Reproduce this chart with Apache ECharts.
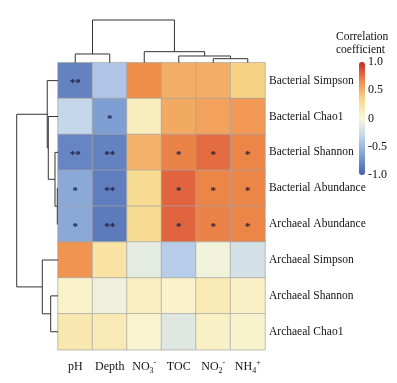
<!DOCTYPE html>
<html>
<head>
<meta charset="utf-8">
<script src="https://cdn.jsdelivr.net/npm/echarts@6/dist/echarts.min.js"></script>
<style>
  html, body { margin: 0; padding: 0; background: #fff; }
  #main { width: 397px; height: 383px; }
</style>
</head>
<body>
<div id="main"></div>
<script>
// columns (environmental factors), in dendrogram order
var colLabels = ['pH', 'Depth', 'NO{sub|3}{sup|-}', 'TOC', 'NO{sub|2}{sup|-}', 'NH{sub|4}{sup|+}'];
// rows (diversity / abundance indices), top to bottom
var rowLabels = ['Bacterial Simpson', 'Bacterial Chao1', 'Bacterial Shannon', 'Bacterial Abundance',
                 'Archaeal Abundance', 'Archaeal Simpson', 'Archaeal Shannon', 'Archaeal Chao1'];

// correlation coefficients, one array per row
var bacSimpson   = [-0.82, -0.42, 0.66, 0.52, 0.52, 0.36];
var bacChao1     = [-0.30, -0.66, 0.12, 0.54, 0.57, 0.61];
var bacShannon   = [-0.80, -0.82, 0.50, 0.70, 0.77, 0.69];
var bacAbundance = [-0.60, -0.84, 0.30, 0.80, 0.69, 0.69];
var arcAbundance = [-0.60, -0.86, 0.30, 0.80, 0.70, 0.69];
var arcSimpson   = [0.63, 0.22, -0.12, -0.38, -0.05, -0.22];
var arcShannon   = [0.06, -0.06, 0.10, 0.06, 0.15, 0.08];
var arcChao1     = [0.18, 0.15, 0.04, -0.15, 0.08, 0.05];

// significance marks
var bacSimpsonSig   = ['**', '', '', '', '', ''];
var bacChao1Sig     = ['', '*', '', '', '', ''];
var bacShannonSig   = ['**', '**', '', '*', '*', '*'];
var bacAbundanceSig = ['*', '**', '', '*', '*', '*'];
var arcAbundanceSig = ['*', '**', '', '*', '*', '*'];
var arcSimpsonSig   = ['', '', '', '', '', ''];
var arcShannonSig   = ['', '', '', '', '', ''];
var arcChao1Sig     = ['', '', '', '', '', ''];

// dendrogram merges: [childA, childB, height]; new cluster id = nLeaves + index
var colMerges = [[4, 5, 0.094], [3, 6, 0.157], [0, 1, 0.204], [2, 7, 0.258], [8, 9, 1.0]];
var rowMerges = [[3, 4, 0.017], [2, 8, 0.073], [1, 9, 0.235], [0, 10, 0.26],
                 [6, 7, 0.177], [5, 12, 0.38], [11, 13, 1.0]];

var colorTicks = [1.0, 0.5, 0, -0.5, -1.0];

var values = [bacSimpson, bacChao1, bacShannon, bacAbundance, arcAbundance, arcSimpson, arcShannon, arcChao1];
var sigs = [bacSimpsonSig, bacChao1Sig, bacShannonSig, bacAbundanceSig, arcAbundanceSig, arcSimpsonSig, arcShannonSig, arcChao1Sig];

var heatData = [];
for (var r = 0; r < values.length; r++) {
    for (var c = 0; c < values[r].length; c++) {
        heatData.push([c, r, values[r][c]]);
    }
}

function buildTree(merges, n) {
    var pos = [], hgt = [], segs = [];
    for (var i = 0; i < n; i++) { pos[i] = i; hgt[i] = 0; }
    merges.forEach(function (m, k) {
        var a = m[0], b = m[1];
        segs.push([pos[a], hgt[a], pos[b], hgt[b], m[2]]);
        pos[n + k] = (pos[a] + pos[b]) / 2;
        hgt[n + k] = m[2];
    });
    return segs;
}

var colSegs = buildTree(colMerges, colLabels.length);
var rowSegs = buildTree(rowMerges, rowLabels.length);

var serif = 'Liberation Serif';
var lineColor = '#333';

var myChart = echarts.init(document.getElementById('main'));

var option = {
    backgroundColor: '#fff',
    animation: false,
    textStyle: { fontFamily: serif },
    graphic: [{
        type: 'text',
        left: 336,
        top: 31,
        style: {
            text: 'Correlation\ncoefficient',
            font: '11.5px ' + serif,
            fill: '#111',
            align: 'center',
            lineHeight: 12.5
        }
    }],
    grid: [
        { left: 58, top: 62.7, width: 207, height: 287 },
        { left: 58, top: 20, width: 207, height: 42.7 },
        { left: 16.7, top: 62.7, width: 41.3, height: 287 },
        { left: 359, top: 62, width: 6, height: 113 }
    ],
    xAxis: [
        {
            type: 'category', gridIndex: 0, data: colLabels,
            axisLine: { show: false }, axisTick: { show: false }, splitLine: { show: false },
            axisLabel: {
                interval: 0,
                margin: 9, color: '#111', fontFamily: serif, fontSize: 12, lineHeight: 16,
                rich: {
                    sub: { fontSize: 8, lineHeight: 8, verticalAlign: 'bottom', fontFamily: serif, color: '#111' },
                    sup: { fontSize: 8, lineHeight: 8, verticalAlign: 'top', fontFamily: serif, color: '#111' }
                }
            }
        },
        { type: 'value', gridIndex: 1, min: -0.5, max: 5.5, show: false },
        { type: 'value', gridIndex: 2, min: 0, max: 1, inverse: true, show: false },
        { type: 'value', gridIndex: 3, show: false }
    ],
    yAxis: [
        {
            type: 'category', gridIndex: 0, data: rowLabels, inverse: true, position: 'right',
            axisLine: { show: false }, axisTick: { show: false }, splitLine: { show: false },
            axisLabel: { interval: 0, margin: 4, color: '#111', fontFamily: serif, fontSize: 11.5 }
        },
        { type: 'value', gridIndex: 1, min: 0, max: 1, show: false },
        { type: 'value', gridIndex: 2, min: -0.5, max: 7.5, inverse: true, show: false },
        {
            type: 'value', gridIndex: 3, min: -1, max: 1, interval: 0.5, position: 'right',
            axisLine: { show: false }, axisTick: { show: false }, splitLine: { show: false },
            axisLabel: {
                margin: 3, color: '#111', fontFamily: serif, fontSize: 12,
                formatter: function (v) {
                    for (var i = 0; i < colorTicks.length; i++) {
                        if (Math.abs(colorTicks[i] - v) < 1e-6) {
                            return colorTicks[i] === 0 ? '0' : colorTicks[i].toFixed(1);
                        }
                    }
                    return '';
                }
            }
        }
    ],
    visualMap: {
        type: 'continuous',
        seriesIndex: 0,
        min: -1, max: 1,
        left: 359, top: 62,
        itemWidth: 6, itemHeight: 113,
        padding: 0,
        calculable: false,
        showLabel: false,
        text: null,
        inRange: {
            color: ['#4560ab', '#7e9ed2', '#bfd3ec', '#f9f8d9', '#f8d88a', '#ef8c4a', '#c9282a']
        }
    },
    series: [
        {
            type: 'heatmap',
            xAxisIndex: 0, yAxisIndex: 0,
            data: heatData,
            itemStyle: { borderColor: '#a5a5a5', borderWidth: 0.7 },
            label: {
                show: true,
                color: '#1c1c3c',
                fontSize: 11,
                fontWeight: 'bold',
                fontFamily: serif,
                offset: [0, 3],
                formatter: function (p) { return sigs[p.data[1]][p.data[0]]; }
            },
            emphasis: { disabled: true }
        },
        {
            type: 'custom',
            xAxisIndex: 1, yAxisIndex: 1,
            data: colSegs,
            silent: true,
            renderItem: function (params, api) {
                var p1 = api.coord([api.value(0), api.value(1)]);
                var p2 = api.coord([api.value(0), api.value(4)]);
                var p3 = api.coord([api.value(2), api.value(4)]);
                var p4 = api.coord([api.value(2), api.value(3)]);
                return {
                    type: 'polyline',
                    shape: { points: [p1, p2, p3, p4] },
                    style: { stroke: lineColor, fill: null, lineWidth: 1 }
                };
            }
        },
        {
            type: 'custom',
            xAxisIndex: 2, yAxisIndex: 2,
            data: rowSegs,
            silent: true,
            renderItem: function (params, api) {
                var p1 = api.coord([api.value(1), api.value(0)]);
                var p2 = api.coord([api.value(4), api.value(0)]);
                var p3 = api.coord([api.value(4), api.value(2)]);
                var p4 = api.coord([api.value(3), api.value(2)]);
                return {
                    type: 'polyline',
                    shape: { points: [p1, p2, p3, p4] },
                    style: { stroke: lineColor, fill: null, lineWidth: 1 }
                };
            }
        }
    ]
};

myChart.setOption(option, true);
</script>
</body>
</html>
